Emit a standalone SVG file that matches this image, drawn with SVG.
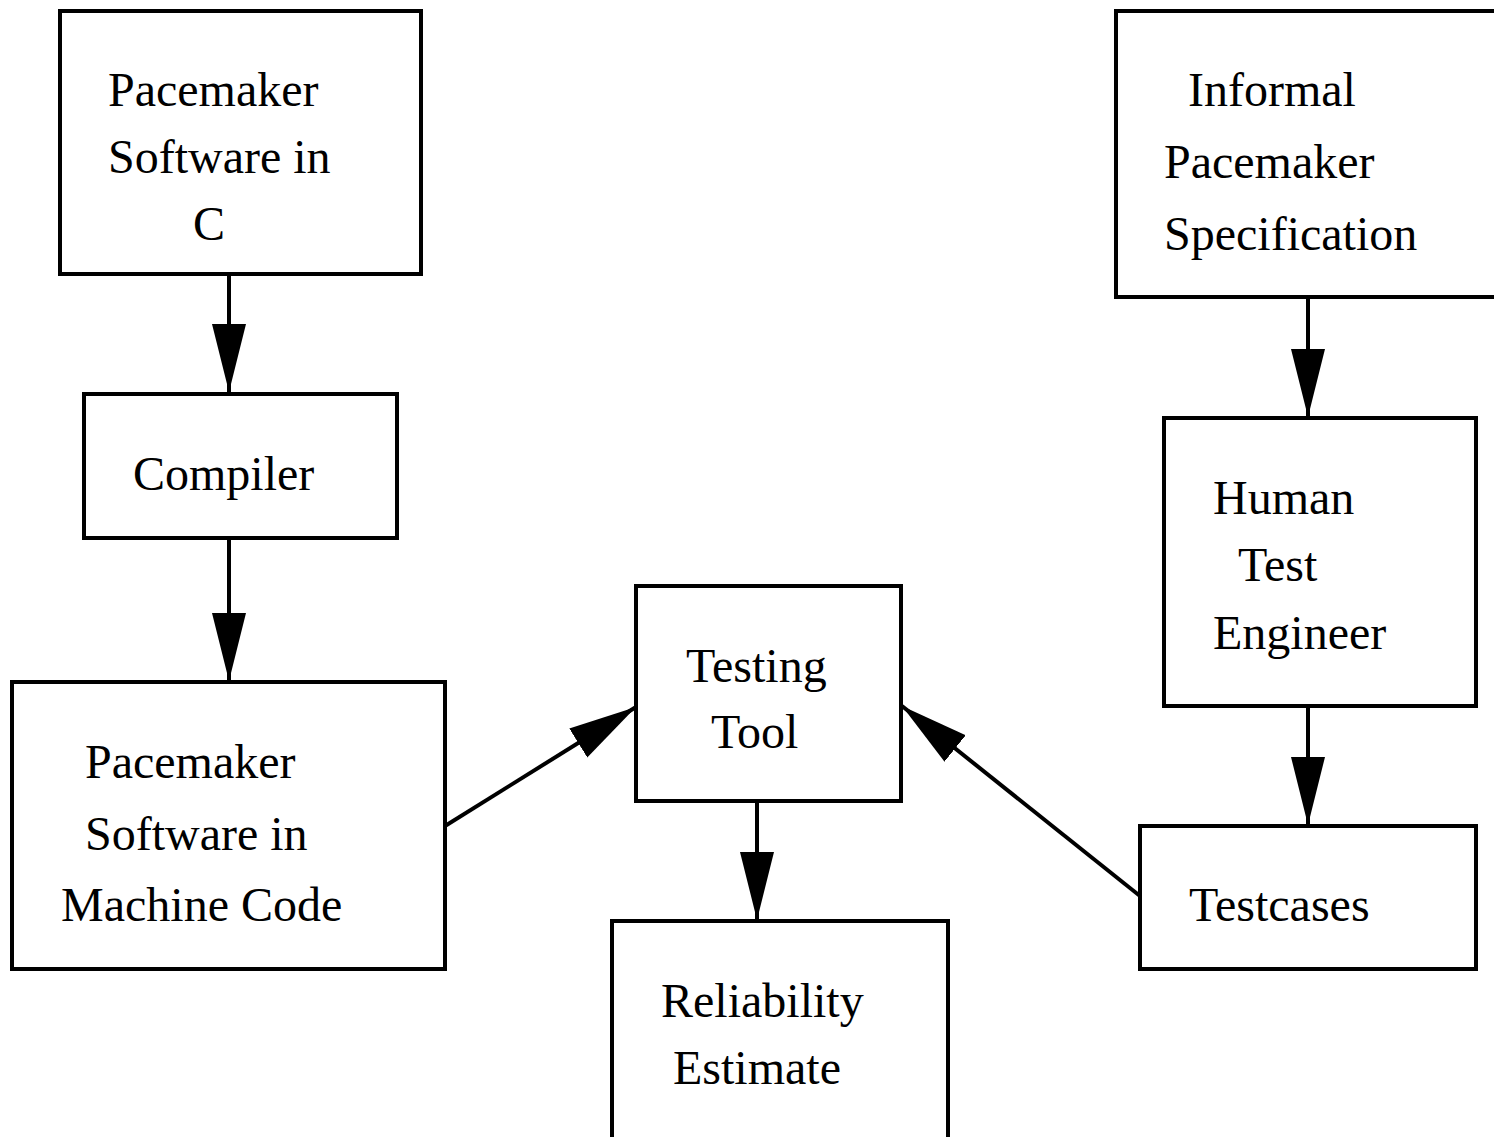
<svg xmlns="http://www.w3.org/2000/svg" width="1494" height="1137" viewBox="0 0 1494 1137">
<style>
.box{fill:#fff;stroke:#000;stroke-width:4}
.t{font-family:"Liberation Serif","Times New Roman",serif;font-size:48px;fill:#000}
.c{fill:none;stroke:#000;stroke-width:4}
</style>
<defs>
<marker id="ah" markerUnits="userSpaceOnUse" markerWidth="70" markerHeight="36" refX="68" refY="17" orient="auto" viewBox="0 0 70 36">
<path d="M0,0 L68,17 L0,34 z" fill="#000"/>
</marker>
</defs>
<rect width="1494" height="1137" fill="#fff"/>
<g id="connectors">
<line class="c" x1="229" y1="274" x2="229" y2="392" marker-end="url(#ah)"/>
<line class="c" x1="229" y1="538" x2="229" y2="681" marker-end="url(#ah)"/>
<line class="c" x1="1308" y1="297" x2="1308" y2="417" marker-end="url(#ah)"/>
<line class="c" x1="1308" y1="706" x2="1308" y2="825" marker-end="url(#ah)"/>
<line class="c" x1="757" y1="801" x2="757" y2="920" marker-end="url(#ah)"/>
<line class="c" x1="445" y1="826" x2="636" y2="707" marker-end="url(#ah)"/>
<line class="c" x1="1140" y1="896" x2="902" y2="706" marker-end="url(#ah)"/>
</g>
<g id="n-src">
<rect class="box" x="60" y="11" width="361" height="263"/>
<text class="t" x="108" y="106">Pacemaker</text>
<text class="t" x="108" y="173">Software in</text>
<text class="t" x="193" y="240">C</text>
</g>
<g id="n-compiler">
<rect class="box" x="84" y="394" width="313" height="144"/>
<text class="t" x="133" y="490">Compiler</text>
</g>
<g id="n-machine">
<rect class="box" x="12" y="682" width="433" height="287"/>
<text class="t" x="85" y="778">Pacemaker</text>
<text class="t" x="85" y="850">Software in</text>
<text class="t" x="61" y="921">Machine Code</text>
</g>
<g id="n-tool">
<rect class="box" x="636" y="586" width="265" height="215"/>
<text class="t" x="686" y="682">Testing</text>
<text class="t" x="711" y="748">Tool</text>
</g>
<g id="n-reliability">
<rect class="box" x="612" y="921" width="336" height="222"/>
<text class="t" x="661" y="1017">Reliability</text>
<text class="t" x="673" y="1084">Estimate</text>
</g>
<g id="n-spec">
<rect class="box" x="1116" y="11" width="390" height="286"/>
<text class="t" x="1188" y="106">Informal</text>
<text class="t" x="1164" y="178">Pacemaker</text>
<text class="t" x="1164" y="250">Specification</text>
</g>
<g id="n-human">
<rect class="box" x="1164" y="418" width="312" height="288"/>
<text class="t" x="1213" y="514">Human</text>
<text class="t" x="1238" y="581">Test</text>
<text class="t" x="1213" y="649">Engineer</text>
</g>
<g id="n-testcases">
<rect class="box" x="1140" y="826" width="336" height="143"/>
<text class="t" x="1189" y="921">Testcases</text>
</g>
</svg>
